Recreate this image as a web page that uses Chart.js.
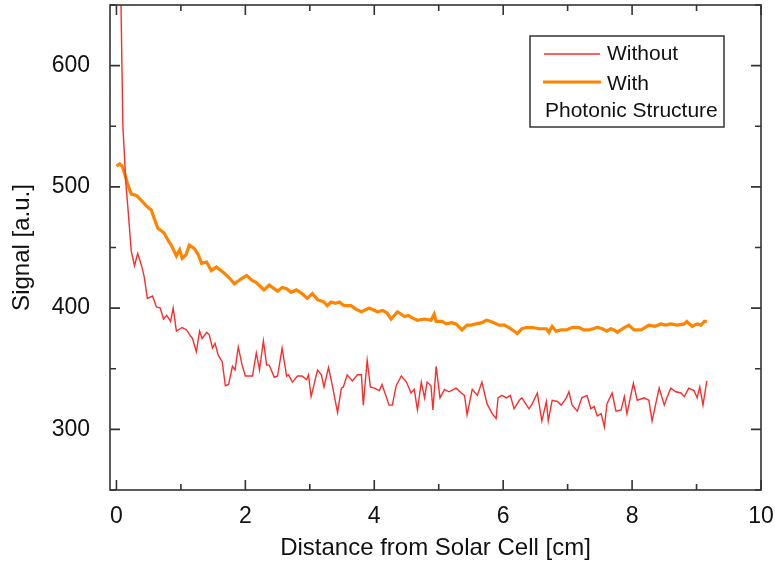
<!DOCTYPE html>
<html>
<head>
<meta charset="utf-8">
<script src="https://cdn.jsdelivr.net/npm/chart.js@4"></script>
<style>
  body { margin: 0; background: #fff; }
  canvas { display: block; }
</style>
</head>
<body>
<canvas id="signalChart" width="775" height="567"></canvas>
<script>
// distance [cm] and signal [a.u.]
var xWithout = [0, 0.05, 0.10, 0.15, 0.17, 0.23, 0.28, 0.33, 0.39, 0.43, 0.48, 0.56, 0.62, 0.68, 0.73, 0.78, 0.84, 0.88, 0.93, 1.02,
  1.09, 1.15, 1.18, 1.24, 1.29, 1.33, 1.40, 1.44, 1.49, 1.53, 1.58, 1.64, 1.69, 1.74, 1.80, 1.84, 1.89, 1.95, 2.00, 2.11,
  2.17, 2.22, 2.28, 2.33, 2.37, 2.45, 2.50, 2.57, 2.64, 2.67, 2.73, 2.81, 2.88, 2.95, 2.98, 3.02, 3.12, 3.18, 3.22, 3.29,
  3.35, 3.43, 3.49, 3.52, 3.58, 3.66, 3.74, 3.80, 3.83, 3.89, 3.94, 4.00, 4.08, 4.12, 4.23, 4.28, 4.34, 4.42, 4.50, 4.57,
  4.62, 4.67, 4.73, 4.78, 4.82, 4.88, 4.91, 4.96, 5.02, 5.09, 5.16, 5.27, 5.35, 5.40, 5.44, 5.52, 5.60, 5.67, 5.75, 5.83,
  5.89, 5.92, 5.98, 6.05, 6.11, 6.17, 6.25, 6.29, 6.40, 6.45, 6.53, 6.60, 6.67, 6.70, 6.76, 6.84, 6.90, 6.98, 7.02, 7.07,
  7.15, 7.22, 7.30, 7.36, 7.41, 7.46, 7.52, 7.57, 7.61, 7.69, 7.75, 7.83, 7.88, 7.92, 8.02, 8.08, 8.19, 8.26, 8.31, 8.42,
  8.50, 8.54, 8.60, 8.68, 8.76, 8.81, 8.88, 8.96, 9.01, 9.05, 9.10, 9.16];
var yWithout = [900, 720, 550, 500, 488, 447, 435, 445, 435, 426, 408, 410, 401, 400, 391, 394, 389, 400, 381, 384,
  382, 377, 375, 364, 381, 375, 380, 378, 367, 371, 361, 356, 336, 337, 352, 349, 368, 353, 344, 344,
  363, 349, 373, 353, 353, 343, 344, 367, 344, 345, 339, 344, 344, 341, 345, 327, 349, 345, 335, 351,
  336, 314, 334, 335, 345, 340, 345, 345, 320, 357, 335, 334, 332, 337, 320, 320, 336, 344, 339, 330,
  333, 316, 339, 326, 339, 336, 316, 352, 326, 333, 331, 334, 330, 328, 312, 333, 328, 339, 321, 313,
  309, 326, 328, 326, 328, 317, 324, 326, 317, 321, 330, 307, 323, 307, 324, 323, 320, 326, 331, 320,
  315, 326, 328, 317, 319, 311, 313, 302, 321, 330, 315, 316, 327, 313, 338, 324, 326, 324, 307, 334,
  320, 326, 334, 331, 330, 327, 334, 332, 326, 335, 320, 340];

var xWith = [0, 0.05, 0.09, 0.12, 0.17, 0.23, 0.31, 0.40, 0.47, 0.54, 0.64, 0.74, 0.80, 0.85, 0.93, 0.98, 1.02, 1.08, 1.13, 1.21,
  1.27, 1.32, 1.40, 1.47, 1.55, 1.67, 1.75, 1.83, 1.93, 2.02, 2.10, 2.17, 2.29, 2.37, 2.50, 2.57, 2.64, 2.71, 2.79, 2.88,
  2.96, 3.04, 3.12, 3.22, 3.27, 3.33, 3.40, 3.46, 3.53, 3.64, 3.72, 3.80, 3.92, 4.05, 4.13, 4.20, 4.26, 4.36, 4.47, 4.53,
  4.59, 4.67, 4.78, 4.88, 4.93, 4.96, 5.05, 5.12, 5.20, 5.27, 5.36, 5.44, 5.50, 5.58, 5.67, 5.74, 5.81, 5.94, 6.02, 6.09,
  6.22, 6.29, 6.36, 6.46, 6.56, 6.67, 6.71, 6.76, 6.82, 6.90, 6.98, 7.07, 7.18, 7.25, 7.33, 7.46, 7.54, 7.61, 7.67, 7.72,
  7.77, 7.88, 7.95, 8.03, 8.14, 8.26, 8.35, 8.45, 8.52, 8.60, 8.70, 8.81, 8.85, 8.93, 9.01, 9.07, 9.12, 9.16];
var yWith = [517, 519, 517, 512, 503, 494, 493, 488, 484, 481, 466, 462, 456, 452, 443, 448, 441, 444, 452, 449,
  444, 437, 438, 431, 434, 429, 425, 420, 424, 427, 423, 421, 415, 419, 414, 417, 416, 413, 415, 412,
  408, 412, 407, 405, 402, 405, 404, 405, 402, 402, 399, 397, 400, 397, 398, 396, 391, 397, 393, 394,
  392, 390, 391, 390, 395, 389, 389, 387, 388, 387, 382, 386, 386, 387, 388, 390, 389, 386, 386, 384,
  379, 383, 384, 384, 383, 383, 380, 385, 381, 382, 382, 384, 384, 382, 382, 384, 383, 381, 383, 382,
  380, 384, 386, 382, 382, 386, 385, 387, 386, 387, 386, 387, 389, 385, 387, 386, 389, 389];

var xTicks = [0, 1, 2, 3, 4, 5, 6, 7, 8, 9, 10];
var yTicks = [250, 300, 350, 400, 450, 500, 550, 600, 650];
var legendLabels = ['Without', 'With', 'Photonic Structure'];

var FONT = '"Liberation Sans", Arial, sans-serif';
var RED = '#ff2b2b';
var ORANGE = '#ff8400';

function toPoints(xs, ys) {
    return xs.map(function (x, i) { return { x: x, y: ys[i] }; });
}

// frame with inward ticks on all four sides, like the original plot
var framePlugin = {
    id: 'frame',
    afterDraw: function (chart) {
        var ctx = chart.ctx, a = chart.chartArea;
        var xs = chart.scales.x, ys = chart.scales.y;
        ctx.save();
        ctx.strokeStyle = '#333';
        ctx.lineWidth = 1.6;
        ctx.strokeRect(a.left, a.top, a.right - a.left, a.bottom - a.top);
        ctx.beginPath();
        xTicks.forEach(function (v) {
            var px = xs.getPixelForValue(v);
            var len = v % 2 === 0 ? 10 : 6;
            ctx.moveTo(px, a.bottom); ctx.lineTo(px, a.bottom - len);
            ctx.moveTo(px, a.top); ctx.lineTo(px, a.top + len);
        });
        yTicks.forEach(function (v) {
            var py = ys.getPixelForValue(v);
            var len = v % 100 === 0 ? 10 : 6;
            ctx.moveTo(a.left, py); ctx.lineTo(a.left + len, py);
            ctx.moveTo(a.right, py); ctx.lineTo(a.right - len, py);
        });
        ctx.stroke();
        ctx.restore();
    }
};

// boxed legend with the extra "Photonic Structure" line
var legendPlugin = {
    id: 'boxLegend',
    afterDraw: function (chart) {
        var ctx = chart.ctx;
        ctx.save();
        ctx.strokeStyle = '#333';
        ctx.lineWidth = 1.5;
        ctx.strokeRect(530, 36, 194, 91);
        ctx.lineCap = 'butt';
        ctx.strokeStyle = RED; ctx.lineWidth = 1.5;
        ctx.beginPath(); ctx.moveTo(544, 54); ctx.lineTo(600, 54); ctx.stroke();
        ctx.strokeStyle = ORANGE; ctx.lineWidth = 3.2;
        ctx.beginPath(); ctx.moveTo(543, 82); ctx.lineTo(601, 82); ctx.stroke();
        ctx.fillStyle = '#111';
        ctx.font = '21px ' + FONT;
        ctx.textBaseline = 'middle';
        ctx.fillText(legendLabels[0], 607, 54);
        ctx.fillText(legendLabels[1], 607, 84);
        ctx.fillText(legendLabels[2], 545, 111);
        ctx.restore();
    }
};

var ctx = document.getElementById('signalChart').getContext('2d');
window.signalChartInstance = new Chart(ctx, {
    type: 'line',
    data: {
        datasets: [{
            label: legendLabels[0],
            data: toPoints(xWithout, yWithout),
            borderColor: RED,
            borderWidth: 1.4,
            pointRadius: 0,
            tension: 0
        }, {
            label: legendLabels[1],
            data: toPoints(xWith, yWith),
            borderColor: ORANGE,
            borderWidth: 3.2,
            pointRadius: 0,
            tension: 0
        }]
    },
    options: {
        responsive: false,
        animation: false,
        layout: { padding: { top: 5, right: 14, left: 0, bottom: 0 } },
        plugins: {
            legend: { display: false },
            tooltip: { enabled: false }
        },
        scales: {
            x: {
                type: 'linear',
                min: -0.1,
                max: 10,
                afterFit: function (s) {
                    s.height = 77;
                    s.paddingLeft = 0;
                    s.paddingRight = 0;
                },
                grid: { display: false, drawTicks: false },
                border: { display: false },
                ticks: {
                    stepSize: 1,
                    includeBounds: false,
                    autoSkip: false,
                    maxRotation: 0,
                    padding: 13,
                    color: '#111',
                    font: { family: FONT, size: 23 },
                    callback: function (v) {
                        var r = Math.round(v);
                        return (Math.abs(v - r) < 1e-6 && r % 2 === 0) ? String(r) : '';
                    }
                },
                title: {
                    display: true,
                    text: 'Distance from Solar Cell [cm]',
                    color: '#111',
                    font: { family: FONT, size: 24 },
                    padding: { top: 0, bottom: 4 }
                }
            },
            y: {
                min: 250,
                max: 650,
                afterFit: function (s) {
                    s.width = 110;
                    s.paddingTop = 0;
                    s.paddingBottom = 0;
                },
                grid: { display: false, drawTicks: false },
                border: { display: false },
                ticks: {
                    stepSize: 50,
                    autoSkip: false,
                    padding: 20,
                    color: '#111',
                    font: { family: FONT, size: 23 },
                    callback: function (v) { return v % 100 === 0 ? String(v) : ''; }
                },
                title: {
                    display: true,
                    text: 'Signal [a.u.]',
                    color: '#111',
                    font: { family: FONT, size: 24 },
                    padding: { top: 8, bottom: 0 }
                }
            }
        }
    },
    plugins: [framePlugin, legendPlugin]
});
</script>
</body>
</html>
